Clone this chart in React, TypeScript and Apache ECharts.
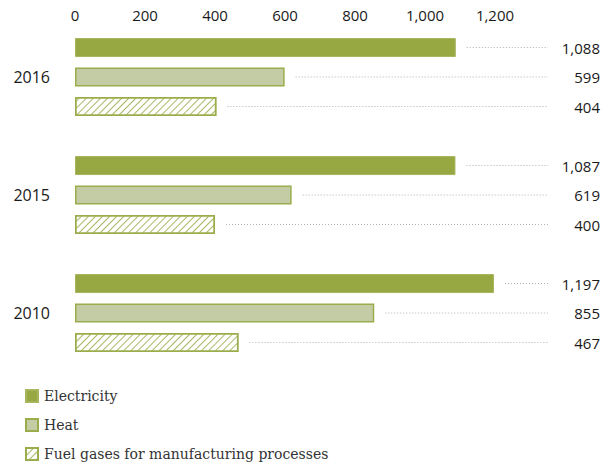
import React, { useEffect, useRef } from "react";
import * as echarts from "echarts";

const categories = ["2016", "2015", "2010"];
const seriesNames = ["Electricity", "Heat", "Fuel gases for manufacturing processes"];
const electricity = [1088, 1087, 1197];
const heat = [599, 619, 855];
const fuelGases = [404, 400, 467];
const xTicks = { min: 0, max: 1200, interval: 200 };

const fmt = (v: number) => Number(v).toLocaleString("en-US");

export default function App() {
  const ref = useRef<HTMLDivElement>(null);
  useEffect(() => {
    if (!ref.current) return;
    const chart = echarts.init(ref.current, null, { renderer: "svg" });
    const allSeries = [electricity, heat, fuelGases];
    const leaderData: number[][] = [];
    allSeries.forEach((arr, s) => arr.forEach((v, c) => leaderData.push([v, c, s])));
    const sans = "Open Sans";
    chart.setOption({
      animation: false,
      textStyle: { fontFamily: sans },
      grid: { left: 75, right: 119, top: 18, bottom: 94 },
      xAxis: {
        type: "value",
        position: "top",
        min: xTicks.min,
        max: xTicks.max,
        interval: xTicks.interval,
        axisLine: { show: false },
        axisTick: { show: false },
        splitLine: { show: false },
        axisLabel: { formatter: fmt, fontSize: 15, color: "#1a1a1a", fontFamily: sans, margin: -4 },
      },
      yAxis: {
        type: "category",
        data: categories,
        inverse: true,
        axisLine: { show: false },
        axisTick: { show: false },
        axisLabel: { fontSize: 16, color: "#1a1a1a", fontFamily: sans, margin: 25 },
      },
      legend: {
        orient: "vertical",
        left: 20,
        top: 384,
        itemWidth: 12,
        itemHeight: 12,
        itemGap: 15,
        icon: "rect",
        data: seriesNames,
        textStyle: { fontFamily: "DejaVu Serif", fontSize: 14, color: "#333", padding: [0, 0, 0, 1] },
      },
      series: [
        {
          name: seriesNames[0],
          type: "bar",
          data: electricity,
          barWidth: 19,
          barGap: "55%",
          itemStyle: { color: "#97a843", borderColor: "#a6b55e", borderWidth: 1 },
        },
        {
          name: seriesNames[1],
          type: "bar",
          data: heat,
          barWidth: 19,
          barGap: "55%",
          itemStyle: { color: "#c4cca6", borderColor: "#9aad4d", borderWidth: 1.5 },
        },
        {
          name: seriesNames[2],
          type: "bar",
          data: fuelGases,
          barWidth: 19,
          barGap: "55%",
          itemStyle: {
            color: "#ffffff",
            borderColor: "#9aad4d",
            borderWidth: 1.5,
            decal: {
              symbol: "rect",
              symbolSize: 1,
              color: "#a9b766",
              backgroundColor: "#ffffff",
              dashArrayX: [1, 0],
              dashArrayY: [1, 4],
              rotation: -Math.PI / 4,
            },
          },
        },
        {
          type: "custom",
          data: leaderData,
          silent: true,
          renderItem: (params: any, api: any) => {
            const v = api.value(0);
            const c = api.value(1);
            const s = api.value(2);
            const p = api.coord([v, c]);
            const y = p[1] + (s - 1) * 29.5;
            const w = api.getWidth();
            return {
              type: "group",
              children: [
                {
                  type: "line",
                  shape: { x1: p[0] + 11, y1: y, x2: w - 66, y2: y },
                  style: { stroke: "#b0b0b0", lineWidth: 1, lineDash: [1, 2] },
                },
                {
                  type: "text",
                  x: w - 14,
                  y: y,
                  style: {
                    text: fmt(v),
                    align: "right",
                    verticalAlign: "middle",
                    fontSize: 15,
                    fontFamily: sans,
                    fill: "#1a1a1a",
                  },
                },
              ],
            };
          },
        },
      ],
    });
    return () => chart.dispose();
  }, []);
  return (
    <div
      ref={ref}
      style={{ position: "fixed", left: 0, top: 0, width: 614, height: 466, background: "#fff" }}
    />
  );
}
